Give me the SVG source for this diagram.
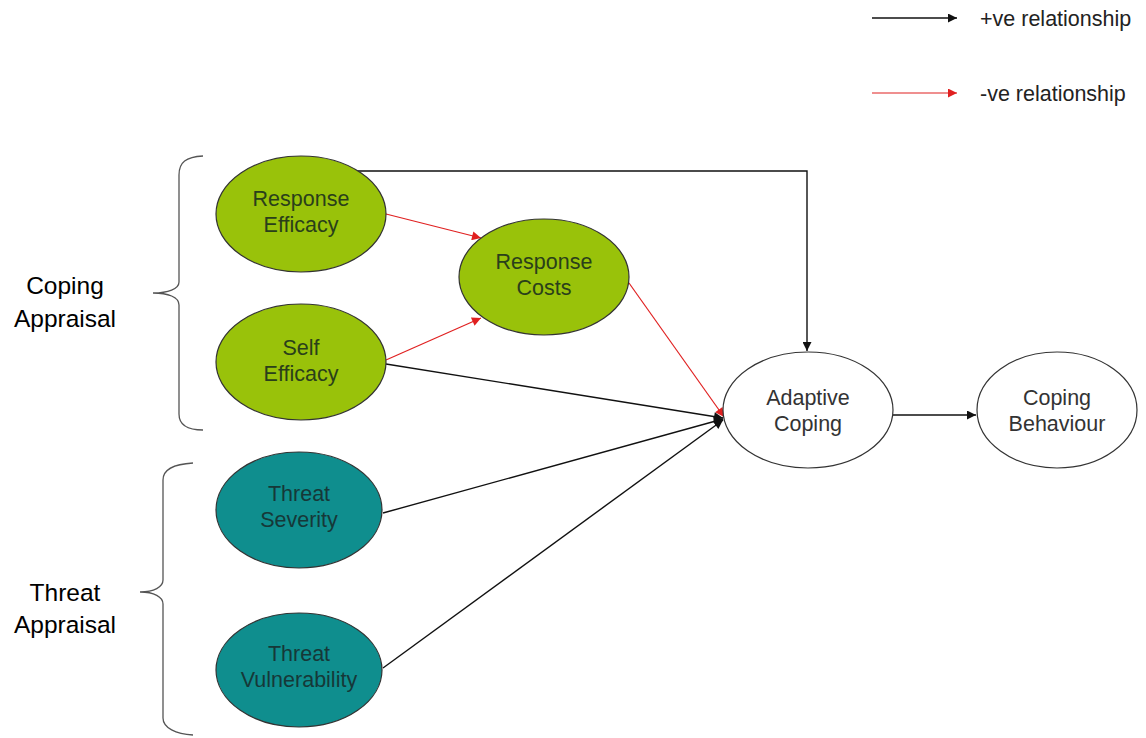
<svg xmlns="http://www.w3.org/2000/svg" width="1146" height="738" viewBox="0 0 1146 738">
<style>
.t{font-family:"Liberation Sans",Arial,sans-serif;font-size:21.5px;text-anchor:middle}
.g{fill:#99c20a;stroke:#333;stroke-width:1.2}
.b{fill:#0f8e8e;stroke:#333;stroke-width:1.2}
.w{fill:#fff;stroke:#333;stroke-width:1.2}
.gt{fill:#2a3f1a}
.bt{fill:#163838}
.wt{fill:#333}
.lk{fill:none;stroke:#111;stroke-width:1.4}
.lr{fill:none;stroke:#e02020;stroke-width:1.2}
.br{fill:none;stroke:#555;stroke-width:1.3}
.lab{font-family:"Liberation Sans",Arial,sans-serif;font-size:24.5px;fill:#000;text-anchor:middle}
.leg{font-family:"Liberation Sans",Arial,sans-serif;font-size:21.5px;fill:#222}
</style>
<defs>
<marker id="ak" viewBox="0 0 10 10" refX="10" refY="5" markerWidth="10" markerHeight="9" markerUnits="userSpaceOnUse" orient="auto"><path d="M0,0L10,5L0,10z" fill="#111"/></marker>
<marker id="ar" viewBox="0 0 10 10" refX="10" refY="5" markerWidth="10" markerHeight="9" markerUnits="userSpaceOnUse" orient="auto"><path d="M0,0L10,5L0,10z" fill="#e02020"/></marker>
</defs>
<rect width="1146" height="738" fill="#fff"/>
<g id="legend">
<path class="lk" d="M872,18H957" marker-end="url(#ak)"/>
<text class="leg" x="980" y="26">+ve relationship</text>
<path class="lr" d="M872,93H957" marker-end="url(#ar)"/>
<text class="leg" x="980" y="101">-ve relationship</text>
</g>
<g id="braces">
<path class="br" d="M203,156C186,157 179,162 179,175V282C179,289 168,293 153,293C168,293 179,297 179,305V414C179,424 186,430 203,430"/>
<path class="br" d="M193,463C176,464 163,468 163,480V580C163,587 154,592 140,592C154,592 163,597 163,604V718C163,728 176,734 193,735"/>
<text class="lab" x="65" y="294">Coping</text>
<text class="lab" x="65" y="327">Appraisal</text>
<text class="lab" x="65" y="601">Threat</text>
<text class="lab" x="65" y="633">Appraisal</text>
</g>
<g id="connectors">
<path class="lk" d="M357,171H807V351" marker-end="url(#ak)"/>
<path class="lr" d="M386,214L481,238" marker-end="url(#ar)"/>
<path class="lr" d="M386,360L481,318" marker-end="url(#ar)"/>
<path class="lr" d="M629,283L724,417" marker-end="url(#ar)"/>
<path class="lk" d="M386,364L723,418" marker-end="url(#ak)"/>
<path class="lk" d="M383,513L723,419" marker-end="url(#ak)"/>
<path class="lk" d="M383,668L723,420" marker-end="url(#ak)"/>
<path class="lk" d="M893,415H976" marker-end="url(#ak)"/>
</g>
<g id="response-efficacy"><ellipse class="g" cx="301" cy="214" rx="85" ry="58"/><text class="t gt" x="301" y="206">Response</text><text class="t gt" x="301" y="232">Efficacy</text></g>
<g id="self-efficacy"><ellipse class="g" cx="301" cy="362" rx="85" ry="58"/><text class="t gt" x="301" y="355">Self</text><text class="t gt" x="301" y="381">Efficacy</text></g>
<g id="response-costs"><ellipse class="g" cx="544" cy="277" rx="85" ry="58"/><text class="t gt" x="544" y="269">Response</text><text class="t gt" x="544" y="295">Costs</text></g>
<g id="threat-severity"><ellipse class="b" cx="299" cy="510" rx="83" ry="58"/><text class="t bt" x="299" y="501">Threat</text><text class="t bt" x="299" y="527">Severity</text></g>
<g id="threat-vulnerability"><ellipse class="b" cx="299" cy="670" rx="83" ry="57"/><text class="t bt" x="299" y="661">Threat</text><text class="t bt" x="299" y="687">Vulnerability</text></g>
<g id="adaptive-coping"><ellipse class="w" cx="808" cy="410" rx="85" ry="58"/><text class="t wt" x="808" y="405">Adaptive</text><text class="t wt" x="808" y="431">Coping</text></g>
<g id="coping-behaviour"><ellipse class="w" cx="1057" cy="410" rx="80" ry="58"/><text class="t wt" x="1057" y="405">Coping</text><text class="t wt" x="1057" y="431">Behaviour</text></g>
</svg>
